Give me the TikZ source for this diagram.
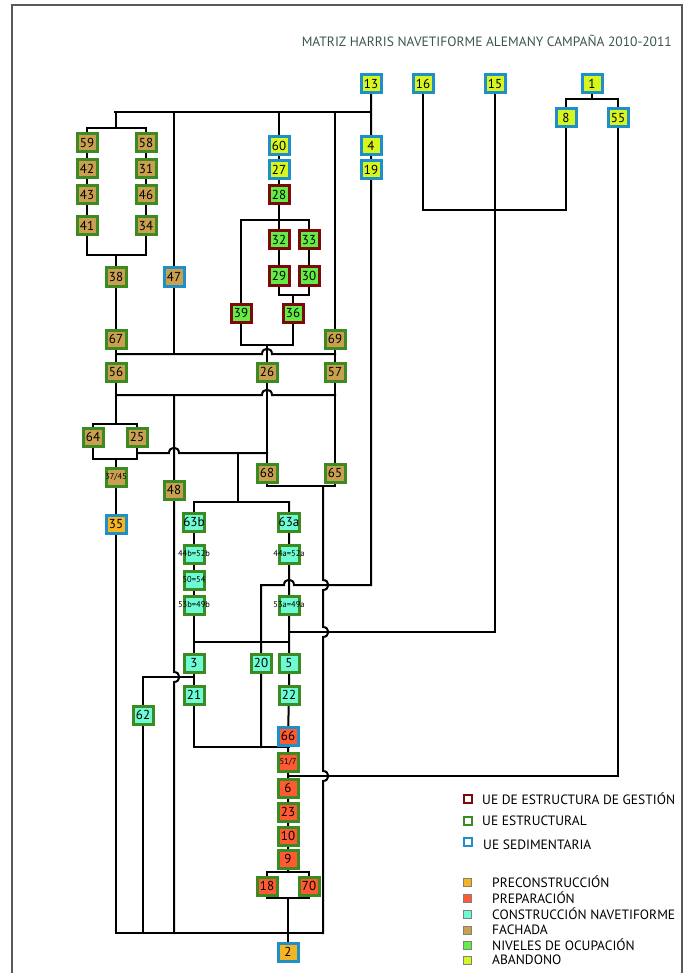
\documentclass[tikz,border=0pt]{standalone}
\usepackage{fontspec}
\setsansfont{PT Sans}
\usetikzlibrary{backgrounds}
\definecolor{azul}{HTML}{1F8FC8}
\definecolor{verde}{HTML}{3C8A22}
\definecolor{granate}{HTML}{7B0A0A}
\definecolor{amarillo}{HTML}{D7F51E}
\definecolor{naranja}{HTML}{F5B423}
\definecolor{rojo}{HTML}{FF5A32}
\definecolor{cian}{HTML}{6EFAD2}
\definecolor{tostado}{HTML}{C8A050}
\definecolor{verdeclaro}{HTML}{64EB46}
\definecolor{titulo}{HTML}{3C5550}
\tikzstyle{ue} = [draw, line width=3pt, minimum width=20pt, minimum height=18pt, inner sep=0pt, font=\sffamily\fontsize{13}{13}\selectfont]
\tikzstyle{sed} = [ue, draw=azul]
\tikzstyle{est} = [ue, draw=verde]
\tikzstyle{ges} = [ue, draw=granate]
\tikzstyle{pre} = [fill=naranja]
\tikzstyle{prep} = [fill=rojo]
\tikzstyle{cons} = [fill=cian]
\tikzstyle{fach} = [fill=tostado]
\tikzstyle{ocu} = [fill=verdeclaro]
\tikzstyle{aband} = [fill=amarillo]
\tikzstyle{link} = [line width=2pt, line cap=rect]
\tikzstyle{clave} = [draw, line width=2.5pt, minimum size=8pt, inner sep=0pt, fill=white]
\tikzstyle{muestra} = [draw=gray, line width=0.6pt, minimum size=8pt, inner sep=0pt]
\tikzstyle{leyenda} = [anchor=west, inner sep=0pt, font=\sffamily\fontsize{13.5}{14}\selectfont]
\newcommand{\peq}[1]{\makebox[0pt]{\fontsize{8.5}{8.5}\selectfont #1}}

\begin{document}
\begin{tikzpicture}[x=1pt, y=-1pt, font=\sffamily]
\useasboundingbox (0,0) rectangle (688,973);
\draw[gray!70!black, line width=2pt] (12,973) -- (12,5) -- (682,5) -- (682,973);
\node[anchor=east, inner sep=0pt, text=titulo, font=\sffamily\fontsize{13.5}{14}\selectfont] (titulo) at (672,41) {MATRIZ HARRIS NAVETIFORME ALEMANY CAMPAÑA 2010-2011};

% unidades sedimentarias de abandono
\node[sed, aband] (n13) at (371,84) {13};
\node[sed, aband] (n16) at (423,84) {16};
\node[sed, aband] (n15) at (495,84) {15};
\node[sed, aband] (n1) at (592,84) {1};
\node[sed, aband] (n8) at (566,118) {8};
\node[sed, aband] (n55) at (618,118) {55};
\node[sed, aband] (n4) at (371,146) {4};
\node[sed, aband] (n19) at (371,170) {19};
\node[sed, aband] (n60) at (279,146) {60};
\node[sed, aband] (n27) at (279,170) {27};

% gestion
\node[ges, ocu] (n28) at (279,195) {28};
\node[ges, ocu] (n32) at (279,240) {32};
\node[ges, ocu] (n33) at (309,240) {33};
\node[ges, ocu] (n29) at (279,276) {29};
\node[ges, ocu] (n30) at (309,276) {30};
\node[ges, ocu] (n39) at (241,313) {39};
\node[ges, ocu] (n36) at (293,313) {36};

% fachada
\node[est, fach] (n59) at (87,143) {59};
\node[est, fach] (n42) at (87,169) {42};
\node[est, fach] (n43) at (87,195) {43};
\node[est, fach] (n41) at (87,226) {41};
\node[est, fach] (n58) at (146,143) {58};
\node[est, fach] (n31) at (146,169) {31};
\node[est, fach] (n46) at (146,195) {46};
\node[est, fach] (n34) at (146,226) {34};
\node[est, fach] (n38) at (116,277) {38};
\node[sed, fach] (n47) at (174,277) {47};
\node[est, fach] (n67) at (116,339) {67};
\node[est, fach] (n69) at (335,339) {69};
\node[est, fach] (n56) at (116,372) {56};
\node[est, fach] (n26) at (267,372) {26};
\node[est, fach] (n57) at (335,372) {57};
\node[est, fach] (n64) at (93,437) {64};
\node[est, fach] (n25) at (137,437) {25};
\node[est, fach] (n3745) at (116,477) {\peq{37/45}};
\node[est, fach] (n48) at (174,490) {48};
\node[est, fach] (n68) at (267,473) {68};
\node[est, fach] (n65) at (335,473) {65};
\node[sed, pre] (n35) at (116,524) {35};

% construccion
\node[est, cons] (n63b) at (194,522) {63b};
\node[est, cons] (n63a) at (289,522) {63a};
\node[est, cons] (n44b) at (194,554) {\peq{44b=52b}};
\node[est, cons] (n44a) at (289,554) {\peq{44a=52a}};
\node[est, cons] (n50) at (194,580) {\peq{50=54}};
\node[est, cons] (n53b) at (194,605) {\peq{53b=49b}};
\node[est, cons] (n53a) at (289,605) {\peq{53a=49a}};
\node[est, cons] (n3) at (194,663) {3};
\node[est, cons] (n20) at (261,663) {20};
\node[est, cons] (n5) at (289,663) {5};
\node[est, cons] (n21) at (194,695) {21};
\node[est, cons] (n22) at (289,695) {22};
\node[est, cons] (n62) at (143,715) {62};

% preparacion
\node[sed, prep] (n66) at (288,736) {66};
\node[est, prep] (n517) at (288,762) {\peq{51/7}};
\node[est, prep] (n6) at (288,788) {6};
\node[est, prep] (n23) at (288,812) {23};
\node[est, prep] (n10) at (288,836) {10};
\node[est, prep] (n9) at (288,859) {9};
\node[est, prep] (n18) at (267,886) {18};
\node[est, prep] (n70) at (309,886) {70};
\node[sed, pre] (n2) at (288,952) {2};

\begin{scope}[on background layer={link}]
\draw (n13) -- (n4) -- (n19) -- (371,585) -- (294,585) .. controls (294,578) and (284,578) .. (284,585) -- (261,585) -- (n20) -- (261,747);
\draw (115,112) -- (371,112);
\draw (116,112) -- (116,128);
\draw (87,128) -- (146,128);
\draw (87,128) -- (n59) -- (n42) -- (n43) -- (n41) -- (87,255) -- (146,255) -- (n34) -- (n46) -- (n31) -- (n58) -- (146,128);
\draw (116,255) -- (n38) -- (n67) -- (n56) -- (116,424);
\draw (174,112) -- (n47) -- (174,354);
\draw (279,112) -- (n60) -- (n27) -- (n28) -- (279,220);
\draw (241,220) -- (309,220);
\draw (241,220) -- (n39) -- (241,345) -- (293,345) -- (n36) -- (293,295);
\draw (309,220) -- (n33) -- (n30) -- (309,295) -- (279,295) -- (n29) -- (n32) -- (279,220);
\draw (267,345) -- (n26) -- (n68);
\draw (335,112) -- (n69) -- (n57) -- (n65);
\draw (116,354) -- (262,354) .. controls (262,347) and (272,347) .. (272,354) -- (335,354);
\draw (116,395) -- (262,395) .. controls (262,388) and (272,388) .. (272,395) -- (335,395);
\draw (174,395) -- (n48) -- (174,672) .. controls (181,672) and (181,682) .. (174,682) -- (174,933);
\draw (93,424) -- (137,424);
\draw (93,424) -- (n64) -- (93,459) -- (137,459) -- (n25) -- (137,424);
\draw (116,459) -- (n3745) -- (n35) -- (116,933) -- (323,933);
\draw (137,453) -- (169,453) .. controls (169,446) and (179,446) .. (179,453) -- (267,453);
\draw (238,453) -- (238,502);
\draw (194,502) -- (289,502);
\draw (194,502) -- (n63b) -- (n44b) -- (n50) -- (n53b) -- (194,642) -- (289,642);
\draw (289,502) -- (n63a) -- (n44a) -- (n53a) -- (n5) -- (n22) -- (n66) -- (n517) -- (n6) -- (n23) -- (n10) -- (n9) -- (288,872);
\draw (194,642) -- (n3) -- (n21) -- (194,747) -- (289,747);
\draw (267,872) -- (309,872);
\draw (267,872) -- (n18) -- (267,898) -- (309,898) -- (n70) -- (309,872);
\draw (288,898) -- (n2);
\draw (n68) -- (267,486) -- (335,486) -- (n65);
\draw (323,486) -- (323,580) .. controls (330,580) and (330,590) .. (323,590) -- (323,627) .. controls (330,627) and (330,637) .. (323,637) -- (323,771) .. controls (330,771) and (330,781) .. (323,781) -- (323,933);
\draw (n15) -- (495,632) -- (289,632);
\draw (n16) -- (423,210) -- (566,210) -- (n8);
\draw (n1) -- (592,99);
\draw (566,99) -- (618,99);
\draw (566,99) -- (n8);
\draw (618,99) -- (n55) -- (618,776) -- (288,776);
\draw (n62) -- (143,677) -- (194,677);
\draw (n62) -- (143,933);
\end{scope}

% leyenda
\node[clave, draw=granate] (kges) at (468,799) {};
\node[clave, draw=verde] (kest) at (468,821) {};
\node[clave, draw=azul] (ksed) at (468,842) {};
\node[leyenda] (tges) at (482,799) {UE DE ESTRUCTURA DE GESTIÓN};
\node[leyenda] (test) at (482,821) {UE ESTRUCTURAL};
\node[leyenda] (tsed) at (483,845) {UE SEDIMENTARIA};
\node[muestra, pre] (mpre) at (467,882) {};
\node[muestra, prep] (mprep) at (467,898) {};
\node[muestra, cons] (mcons) at (467,914) {};
\node[muestra, fach] (mfach) at (467,930) {};
\node[muestra, ocu] (mocu) at (467,945) {};
\node[muestra, aband] (maband) at (467,960) {};
\node[leyenda] (tpre) at (492,882) {PRECONSTRUCCIÓN};
\node[leyenda] (tprep) at (492,898) {PREPARACIÓN};
\node[leyenda] (tcons) at (492,914) {CONSTRUCCIÓN NAVETIFORME};
\node[leyenda] (tfach) at (492,930) {FACHADA};
\node[leyenda] (tocu) at (492,945) {NIVELES DE OCUPACIÓN};
\node[leyenda] (taband) at (492,960) {ABANDONO};
\end{tikzpicture}
\end{document}
